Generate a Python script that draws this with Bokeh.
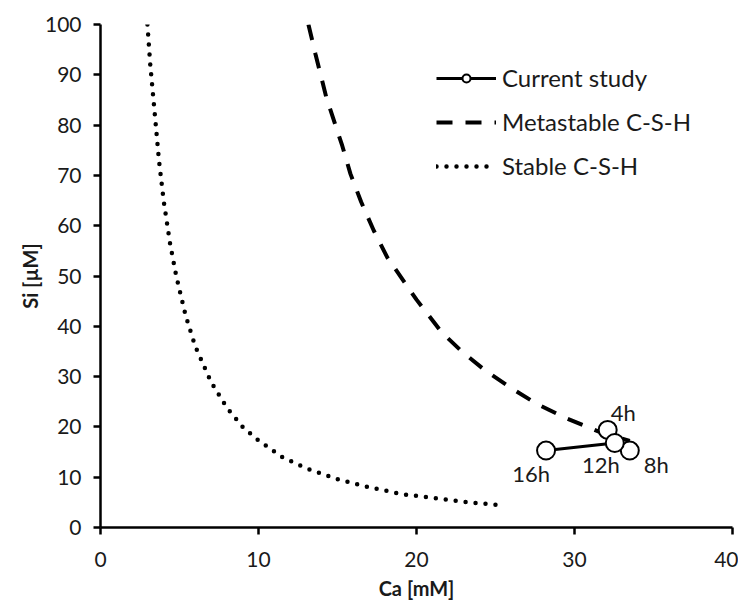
from bokeh.plotting import figure
from bokeh.models import Range1d, FixedTicker, ColumnDataSource, Legend, LegendItem
from bokeh.embed import file_html
from bokeh.resources import INLINE
from bokeh.core.properties import value

# Current study (time series)
study_ca = [32.1, 33.5, 32.55, 28.2]
study_si = [19.4, 15.3, 16.8, 15.3]
study_labels = ["4h", "8h", "12h", "16h"]

# Metastable C-S-H solubility curve
meta_ca = [13.16, 13.6, 14.3, 15.3, 15.82, 16.5, 17.3, 18.15, 20.0, 21.6, 22.9, 24.4, 25.95, 27.6, 29.5, 31.5, 33.5]
meta_si = [100.0, 94.2, 85.4, 75.9, 70.3, 64.7, 59.0, 53.7, 45.3, 38.8, 34.9, 31.1, 27.8, 24.6, 21.7, 19.1, 17.2]

# Stable C-S-H solubility curve
stab_ca = [2.97, 3.15, 3.43, 3.7, 4.0, 4.4, 4.8, 5.4, 6.0, 7.0, 8.0, 9.0, 10.0, 11.5, 13.0, 15.0, 17.0, 19.15, 21.0, 23.0, 25.1]
stab_si = [100.0, 92.0, 82.4, 73.0, 64.9, 56.5, 49.9, 42.0, 36.0, 28.9, 23.8, 20.0, 17.3, 14.0, 11.8, 9.6, 8.0, 6.6, 5.9, 5.1, 4.5]

x_ticks = [0, 10, 20, 30, 40]
y_ticks = [0, 10, 20, 30, 40, 50, 60, 70, 80, 90, 100]

FONT = "Lato"
TXT = "#1a1a1a"

p = figure(width=738, height=602, output_backend="svg", toolbar_location=None,
           x_range=Range1d(0, 40), y_range=Range1d(0, 100),
           min_border_left=100, min_border_right=6, min_border_top=24, min_border_bottom=75)
p.outline_line_color = None
p.xgrid.visible = False
p.ygrid.visible = False
p.background_fill_color = "white"

for ax in (p.xaxis[0], p.yaxis[0]):
    ax.axis_line_width = 2.5
    ax.axis_line_color = "black"
    ax.major_tick_line_width = 2.5
    ax.major_tick_line_color = "black"
    ax.major_tick_in = 0
    ax.major_tick_out = 7
    ax.minor_tick_line_color = None
    ax.major_label_text_font = FONT
    ax.major_label_text_font_size = "21px"
    ax.major_label_text_color = TXT
    ax.axis_label_text_font = FONT
    ax.axis_label_text_font_size = "20px"
    ax.axis_label_text_font_style = "bold"
    ax.axis_label_text_color = TXT

p.xaxis[0].ticker = FixedTicker(ticks=x_ticks)
p.yaxis[0].ticker = FixedTicker(ticks=y_ticks)
p.xaxis[0].major_label_standoff = 17
p.yaxis[0].major_label_standoff = 12
p.xaxis[0].axis_label = "Ca [mM]"
p.yaxis[0].axis_label = "Si [µM]"
p.xaxis[0].axis_label_standoff = 6
p.yaxis[0].axis_label_standoff = 0

src = ColumnDataSource(dict(x=study_ca, y=study_si, t=study_labels,
                            xo=[3, 14, -14, -15], yo=[-4, 0, 8, 9],
                            al=["left", "left", "center", "center"],
                            bl=["bottom", "top", "top", "top"]))

r_meta = p.line(meta_ca, meta_si, line_color="black", line_width=4, line_dash="16 13")
r_stab = p.line(stab_ca, stab_si, line_color="black", line_width=4.5, line_dash="0 10", line_cap="round")
r_line = p.line("x", "y", source=src, line_color="black", line_width=3)
r_pts = p.scatter("x", "y", source=src, size=18, marker="circle", fill_color="white",
                  line_color="black", line_width=2)
p.text("x", "y", text="t", source=src, x_offset="xo", y_offset="yo",
       text_align="al", text_baseline="bl", text_font=value(FONT),
       text_font_size="22px", text_color=TXT)

legend = Legend(items=[
    LegendItem(label="Current study", renderers=[r_line, r_pts]),
    LegendItem(label="Metastable C-S-H", renderers=[r_meta]),
    LegendItem(label="Stable C-S-H", renderers=[r_stab]),
], location=(336, 347))
legend.border_line_color = None
legend.background_fill_alpha = 0
legend.padding = 0
legend.margin = 0
legend.spacing = 15
legend.glyph_width = 60
legend.glyph_height = 20
legend.label_height = 20
legend.label_standoff = 6
legend.label_text_font = FONT
legend.label_text_font_size = "24px"
legend.label_text_color = TXT
p.add_layout(legend)

open("out.html", "w").write(file_html(p, INLINE))
